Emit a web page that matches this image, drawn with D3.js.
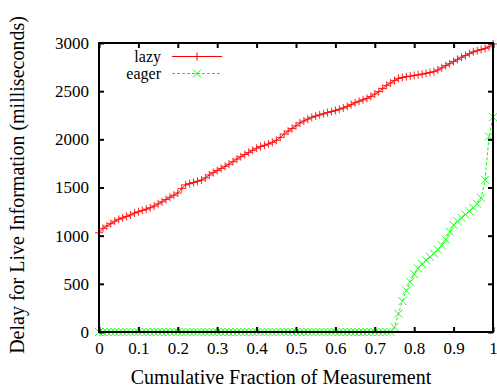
<!DOCTYPE html>
<html>
<head>
<meta charset="utf-8">
<script src="https://cdn.jsdelivr.net/npm/d3@7"></script>
<style>
body { margin: 0; background: #fff; }
</style>
</head>
<body>
<script>
// sorted delays (ms), one per cumulative fraction step
var lazyDelays = [
	1030, 1075, 1100, 1125, 1150, 1170, 1185, 1200, 1215, 1235,
	1248, 1262, 1275, 1290, 1308, 1330, 1352, 1375, 1398, 1420,
	1443, 1490, 1528, 1540, 1552, 1565, 1577, 1600, 1630, 1655,
	1676, 1698, 1720, 1742, 1768, 1795, 1820, 1842, 1864, 1886,
	1908, 1925, 1938, 1952, 1968, 1990, 2020, 2055, 2085, 2112,
	2140, 2170, 2190, 2210, 2228, 2242, 2254, 2265, 2278, 2288,
	2300, 2313, 2326, 2342, 2360, 2380, 2395, 2410, 2425, 2445,
	2470, 2495, 2528, 2560, 2585, 2610, 2632, 2642, 2650, 2656,
	2663, 2670, 2677, 2685, 2693, 2702, 2720, 2742, 2765, 2785,
	2808, 2830, 2852, 2870, 2890, 2908, 2920, 2932, 2944, 2960,
	2990
];
var eagerDelays = [
	0, 0, 0, 0, 0, 0, 0, 0, 0, 0,
	0, 0, 0, 0, 0, 0, 0, 0, 0, 0,
	0, 0, 0, 0, 0, 0, 0, 0, 0, 0,
	0, 0, 0, 0, 0, 0, 0, 0, 0, 0,
	0, 0, 0, 0, 0, 0, 0, 0, 0, 0,
	0, 0, 0, 0, 0, 0, 0, 0, 0, 0,
	0, 0, 0, 0, 0, 0, 0, 0, 0, 0,
	0, 0, 0, 0, 0, 50, 190, 320, 430, 520,
	600, 660, 705, 745, 780, 815, 855, 900, 960, 1040,
	1110, 1150, 1185, 1220, 1255, 1290, 1330, 1390, 1580, 2030,
	2230
];
var xTicks = [0, 0.1, 0.2, 0.3, 0.4, 0.5, 0.6, 0.7, 0.8, 0.9, 1];
var yTicks = [0, 500, 1000, 1500, 2000, 2500, 3000];
var seriesNames = ["lazy", "eager"];
var seriesColors = ["#ff0000", "#00ff00"];

var width = 497, height = 390;
var margin = {top: 43, right: 4, bottom: 58, left: 99};
var font = "Liberation Serif";

var svg = d3.select("body").append("svg")
	.attr("width", width)
	.attr("height", height);

var x = d3.scaleLinear().domain([0, 1]).range([margin.left, width - margin.right]);
var y = d3.scaleLinear().domain([0, 3000]).range([height - margin.bottom, margin.top]);

function toPoints(arr) {
	return arr.map(function(d, i) { return [i / (arr.length - 1), d]; });
}
var series = [toPoints(lazyDelays), toPoints(eagerDelays)];

var line = d3.line().x(function(d){ return x(d[0]); }).y(function(d){ return y(d[1]); });

// marker shapes: + for lazy, x for eager
function plus(g, cx, cy, s, c) {
	g.append("path").attr("d", "M" + (cx - s) + "," + cy + "H" + (cx + s) + "M" + cx + "," + (cy - s) + "V" + (cy + s))
		.attr("stroke", c).attr("stroke-width", 1).attr("fill", "none");
}
function cross(g, cx, cy, s, c) {
	g.append("path").attr("d", "M" + (cx - s) + "," + (cy - s) + "L" + (cx + s) + "," + (cy + s) + "M" + (cx - s) + "," + (cy + s) + "L" + (cx + s) + "," + (cy - s))
		.attr("stroke", c).attr("stroke-width", 1).attr("fill", "none");
}
var markers = [plus, cross];
var dashes = [null, "3,2"];

var plot = svg.append("g");
series.forEach(function(s, k) {
	plot.append("path")
		.datum(s)
		.attr("d", line)
		.attr("fill", "none")
		.attr("stroke", seriesColors[k])
		.attr("stroke-width", 1)
		.attr("stroke-dasharray", dashes[k]);
	var g = plot.append("g").attr("opacity", 0.85);
	s.forEach(function(d) {
		markers[k](g, x(d[0]), y(d[1]), 4, seriesColors[k]);
	});
});

// legend
var legend = svg.append("g");
seriesNames.forEach(function(name, k) {
	var ly = 56.5 + k * 17;
	legend.append("text")
		.attr("x", 161).attr("y", ly + 5)
		.attr("text-anchor", "end")
		.attr("font-size", 16)
		.text(name);
	legend.append("line")
		.attr("x1", 172).attr("x2", 222)
		.attr("y1", ly).attr("y2", ly)
		.attr("stroke", seriesColors[k])
		.attr("stroke-dasharray", dashes[k]);
	markers[k](legend, 197, ly, 4, seriesColors[k]);
});

// axes with inside ticks, mirrored
var tickLen = 5;
svg.append("g")
	.attr("transform", "translate(0," + y(0) + ")")
	.call(d3.axisBottom(x).tickValues(xTicks).tickSizeInner(-tickLen).tickSizeOuter(0).tickPadding(10)
		.tickFormat(function(d){ return d; }));
svg.append("g")
	.attr("transform", "translate(0," + y(3000) + ")")
	.call(d3.axisTop(x).tickValues(xTicks).tickSizeInner(-tickLen).tickSizeOuter(0).tickFormat(""));
svg.append("g")
	.attr("transform", "translate(" + x(0) + ",0)")
	.call(d3.axisLeft(y).tickValues(yTicks).tickSizeInner(-tickLen).tickSizeOuter(0).tickPadding(10)
		.tickFormat(d3.format("d")));
svg.append("g")
	.attr("transform", "translate(" + x(1) + ",0)")
	.call(d3.axisRight(y).tickValues(yTicks).tickSizeInner(-tickLen).tickSizeOuter(0).tickFormat(""));

svg.selectAll(".tick line").attr("stroke", "#000").attr("stroke-width", 2);
svg.selectAll(".domain").attr("stroke", "none");
svg.selectAll(".tick text").attr("font-size", 17).attr("fill", "#000");

svg.append("rect")
	.attr("x", x(0)).attr("y", y(3000))
	.attr("width", x(1) - x(0)).attr("height", y(0) - y(3000))
	.attr("fill", "none").attr("stroke", "#000").attr("stroke-width", 2);

svg.append("text")
	.attr("x", 281).attr("y", 384)
	.attr("text-anchor", "middle")
	.attr("font-size", 20)
	.text("Cumulative Fraction of Measurement");
svg.append("text")
	.attr("transform", "translate(24," + 185 + ") rotate(-90)")
	.attr("text-anchor", "middle")
	.attr("font-size", 20)
	.text("Delay for Live Information (milliseconds)");

svg.selectAll("text").style("font-family", font).style("fill", "#000");
</script>
</body>
</html>
